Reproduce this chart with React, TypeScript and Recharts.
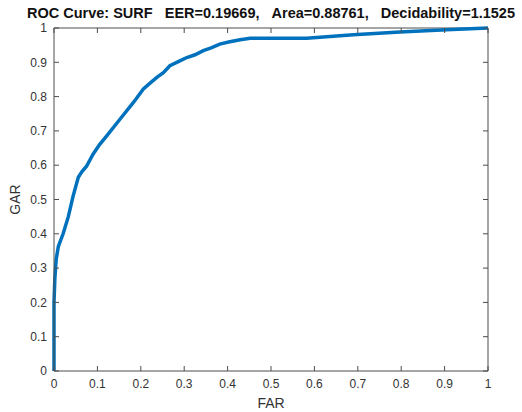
import { Line, LineChart, ReferenceLine, XAxis, YAxis } from 'recharts'

// ROC curve (FAR on x, GAR on y)
const FAR = [
  0, 0, 0.002, 0.005, 0.01, 0.021, 0.033, 0.044, 0.056, 0.065, 0.075, 0.09, 0.105, 0.121, 0.152, 0.183,
  0.206, 0.222, 0.237, 0.252, 0.267, 0.29, 0.306, 0.325, 0.344, 0.362, 0.382, 0.405, 0.429, 0.452, 0.582,
  0.69, 0.797, 0.905, 1.0,
]
const GAR = [
  0, 0.2, 0.27, 0.325, 0.363, 0.4, 0.45, 0.51, 0.565, 0.582, 0.597, 0.632, 0.66, 0.685, 0.734, 0.783,
  0.822, 0.84, 0.856, 0.87, 0.89, 0.904, 0.914, 0.922, 0.934, 0.942, 0.953, 0.96, 0.966, 0.97, 0.97,
  0.98, 0.988, 0.995, 1.0,
]
const TICKS = [0, 0.1, 0.2, 0.3, 0.4, 0.5, 0.6, 0.7, 0.8, 0.9, 1]
// nbsp keeps matlab's wide gaps (plain spaces get collapsed)
const SP = '\u00A0\u00A0\u00A0'
const TITLE = `ROC Curve: SURF${SP}EER=0.19669,${SP}Area=0.88761,${SP}Decidability=1.1525`

const W = 522
const H = 412
const MARGIN = { top: 28, right: 34, bottom: 0, left: 0 }
const X_AXIS_H = 41
const Y_AXIS_W = 54
const PLOT_W = W - MARGIN.left - MARGIN.right - Y_AXIS_W
const PLOT_H = H - MARGIN.top - MARGIN.bottom - X_AXIS_H

const AXIS = '#4d4d4d'
const FONT = '"Liberation Sans", Arial, sans-serif'
const TICK_LEN = 5
const GAP_X = 8
const GAP_Y = 7

// matlab-style box ticks: marks point into the plot on all four sides
function BottomTick({ x, y, payload }: any) {
  const ay = y - GAP_X
  const top = ay - PLOT_H
  return (
    <g>
      <line x1={x} x2={x} y1={ay} y2={ay - TICK_LEN} stroke={AXIS} />
      <line x1={x} x2={x} y1={top} y2={top + TICK_LEN} stroke={AXIS} />
      <text x={x} y={y} dy="0.71em" textAnchor="middle" fontSize={12} fill="#333" fontFamily={FONT}>
        {payload.value}
      </text>
    </g>
  )
}

function LeftTick({ x, y, payload }: any) {
  const ax = x + GAP_Y
  const right = ax + PLOT_W
  return (
    <g>
      <line x1={ax} x2={ax + TICK_LEN} y1={y} y2={y} stroke={AXIS} />
      <line x1={right} x2={right - TICK_LEN} y1={y} y2={y} stroke={AXIS} />
      <text x={x} y={y} dy="0.35em" textAnchor="end" fontSize={12} fill="#333" fontFamily={FONT}>
        {payload.value}
      </text>
    </g>
  )
}

export default function App() {
  const data = FAR.map((far, i) => ({ far, gar: GAR[i] }))

  return (
    <div style={{ position: 'absolute', left: 0, top: 0, background: '#fff' }}>
      <LineChart width={W} height={H} data={data} margin={MARGIN}>
        <XAxis
          dataKey="far"
          type="number"
          domain={[0, 1]}
          ticks={TICKS}
          interval={0}
          height={X_AXIS_H}
          tickSize={0}
          tickMargin={GAP_X}
          tickLine={false}
          stroke={AXIS}
          tick={<BottomTick />}
          label={{ value: 'FAR', position: 'insideBottom', offset: 4, fontSize: 14, fill: '#333', fontFamily: FONT }}
        />
        <YAxis
          type="number"
          domain={[0, 1]}
          ticks={TICKS}
          interval={0}
          width={Y_AXIS_W}
          tickSize={0}
          tickMargin={GAP_Y}
          tickLine={false}
          stroke={AXIS}
          tick={<LeftTick />}
          label={{
            value: 'GAR', angle: -90, position: 'insideLeft', offset: 15,
            fontSize: 14, fill: '#333', fontFamily: FONT, style: { textAnchor: 'middle' },
          }}
        />
        {/* top and right sides of the box; title sits on the top edge */}
        <ReferenceLine
          y={1}
          stroke={AXIS}
          ifOverflow="visible"
          label={{ value: TITLE, position: 'top', offset: 10, fontSize: 14.5, fontWeight: 'bold', fill: '#111', fontFamily: FONT }}
        />
        <ReferenceLine x={1} stroke={AXIS} ifOverflow="visible" />
        <Line dataKey="gar" type="linear" stroke="#0072BD" strokeWidth={3.5} dot={false} isAnimationActive={false} />
      </LineChart>
    </div>
  )
}
